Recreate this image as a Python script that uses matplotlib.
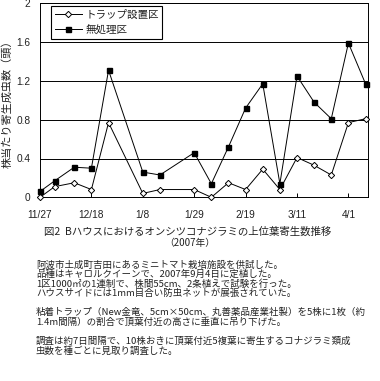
import matplotlib
matplotlib.use("Agg")
import matplotlib.pyplot as plt
import pandas as pd

# 調査日 (2007-2008)
dates = ["2007-11-27", "2007-12-03", "2007-12-11", "2007-12-18", "2007-12-25",
         "2008-01-08", "2008-01-15", "2008-01-29", "2008-02-05", "2008-02-12",
         "2008-02-19", "2008-02-26", "2008-03-04", "2008-03-11", "2008-03-18",
         "2008-03-25", "2008-04-01", "2008-04-08"]
trap = [0.0, 0.11, 0.15, 0.08, 0.77, 0.04, 0.08, 0.08, 0.0, 0.15,
        0.08, 0.29, 0.08, 0.41, 0.33, 0.23, 0.77, 0.81]
untreated = [0.06, 0.17, 0.31, 0.30, 1.31, 0.26, 0.23, 0.46, 0.14, 0.52,
             0.92, 1.17, 0.14, 1.25, 0.98, 0.81, 1.59, 1.17]
tick_dates = ["2007-11-27", "2007-12-18", "2008-01-08", "2008-01-29",
              "2008-02-19", "2008-03-11", "2008-04-01"]
tick_labels = ["11/27", "12/18", "1/8", "1/29", "2/19", "3/11", "4/1"]
series_names = ["トラップ設置区", "無処理区"]

notes = [
    ["阿波市土成町吉田にあるミニトマト栽培施設を供試した。",
     "品種はキャロルクイーンで、2007年9月4日に定植した。",
     "1区1000㎡の1連制で、株間55cm、2条植えで試験を行った。",
     "ハウスサイドには1mm目合い防虫ネットが展張されていた。"],
    ["粘着トラップ（New金竜、5cm×50cm、丸善薬品産業社製）を5株に1枚（約",
     "1.4m間隔）の割合で頂葉付近の高さに垂直に吊り下げた。"],
    ["調査は約7日間隔で、10株おきに頂葉付近5複葉に寄生するコナジラミ類成",
     "虫数を種ごとに見取り調査した。"],
]

jp = ["Noto Sans CJK JP", "DejaVu Sans"]
num = ["Liberation Sans", "DejaVu Sans"]
txtc = "#222222"

W, H = 380, 381
fig = plt.figure(figsize=(W / 100, H / 100), dpi=100)
ax = fig.add_axes([40 / W, 1 - 197.3 / H, 328 / W, 194 / H])

x = pd.to_datetime(dates)
ax.plot(x, trap, color="black", lw=0.7, marker="D", ms=3.2,
        mfc="white", mec="black", mew=0.7, clip_on=False, zorder=3,
        label=series_names[0])
ax.plot(x, untreated, color="black", lw=0.7, marker="s", ms=3.6,
        mfc="black", mec="black", clip_on=False, zorder=4,
        label=series_names[1])

ax.set_xlim(pd.Timestamp("2007-11-27"), pd.Timestamp("2008-04-09"))
ax.set_ylim(0, 2)
ax.set_yticks([0, 0.4, 0.8, 1.2, 1.6, 2])
ax.set_yticklabels(["0", "0.4", "0.8", "1.2", "1.6", "2"], family=num,
                   fontsize=7.3, color=txtc)
ax.set_xticks(pd.to_datetime(tick_dates))
ax.set_xticklabels(tick_labels, family=num, fontsize=7.3, color=txtc)
ax.tick_params(axis="x", direction="in", length=3, width=0.7, pad=9)
ax.tick_params(axis="y", length=0, pad=7)
ax.yaxis.grid(True, color="black", lw=0.7)
for s in ax.spines.values():
    s.set_linewidth(0.7)

leg = ax.legend(loc="upper left", bbox_to_anchor=(0.033, 0.985),
                prop={"family": jp, "size": 7.6}, frameon=True,
                fancybox=False, edgecolor="black", framealpha=1,
                handlelength=2.6, labelspacing=0.45, borderpad=0.35,
                handletextpad=0.3, borderaxespad=0)
leg.get_frame().set_linewidth(0.8)
for t in leg.get_texts():
    t.set_color(txtc)

fig.text(7 / W, 1 - 101 / H, "株当たり寄生成虫数（頭）", rotation=90,
         family=jp, fontsize=8, color=txtc, ha="center", va="center")

fig.text(188 / W, 1 - 232 / H,
         "図2  Bハウスにおけるオンシツコナジラミの上位葉寄生数推移",
         family=jp, fontsize=7.5, color=txtc, ha="center", va="center")
fig.text(190 / W, 1 - 243 / H, "（2007年）", family=jp, fontsize=7,
         color=txtc, ha="center", va="center")

y = 265
for para in notes:
    for line in para:
        fig.text(36 / W, 1 - y / H, line, family=jp, fontsize=6.8,
                 color=txtc, ha="left", va="center")
        y += 9.5
    y += 9.6

fig.savefig("out.png", dpi=100)
